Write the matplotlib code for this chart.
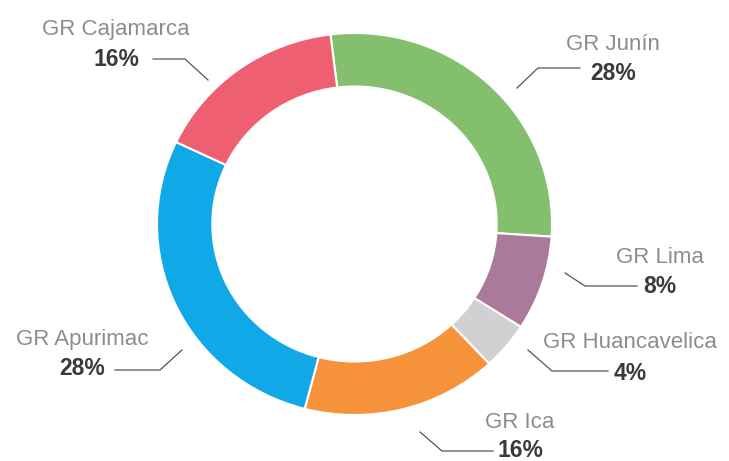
import matplotlib
matplotlib.use("Agg")
import matplotlib.pyplot as plt

# datos
regiones = ["GR Junín", "GR Lima", "GR Huancavelica", "GR Ica", "GR Apurimac", "GR Cajamarca"]
porcentajes = [28, 8, 4, 16, 28, 16]
colores = ["#84BF6E", "#A97A9B", "#D1D1D3", "#F5923A", "#11A8E8", "#EE5F71"]

W, H = 729, 461

# posiciones de etiquetas en pixeles (x centro, baseline nombre, baseline %)
pos_etiquetas = [(613, 50, 80), (660, 263, 293), (630, 348, 380),
                 (520, 428, 457), (82, 345, 375), (116, 35, 66)]
# lineas guia: punta en el anillo, codo, final junto al %
guias = [[(517, 88), (538, 68), (580, 68)],
         [(565, 273), (585, 286), (637, 286)],
         [(528, 350), (552, 371), (608, 371)],
         [(420, 432), (442, 451), (493, 451)],
         [(182, 350), (160, 370), (115, 370)],
         [(208, 80), (185, 59), (153, 59)]]

fig = plt.figure(figsize=(W / 100, H / 100), dpi=100)

# anillo (ligeramente ovalado como en el original)
ax_pie = fig.add_axes([157 / W, (H - 415) / H, 395 / W, 382 / H])
ax_pie.pie(porcentajes, colors=colores, startangle=97, counterclock=False,
           radius=1, frame=True,
           wedgeprops=dict(width=0.28, edgecolor="white", linewidth=1.5))
ax_pie.set_xlim(-1, 1)
ax_pie.set_ylim(-1, 1)
ax_pie.set_aspect("auto")
ax_pie.axis("off")

# etiquetas
ax = fig.add_axes([0, 0, 1, 1])
for reg, pct, (x, yn, yp), g in zip(regiones, porcentajes, pos_etiquetas, guias):
    ax.text(x, H - yn, reg, ha="center", va="baseline", fontsize=16,
            family="Liberation Sans", color="#8C8C8C")
    ax.text(x, H - yp, f"{pct}%", ha="center", va="baseline", fontsize=16.5,
            family="Liberation Sans", fontweight="bold", color="#3A3A3A")
    ax.plot([p[0] for p in g], [H - p[1] for p in g], color="#555555", lw=0.9)
ax.set_xlim(0, W)
ax.set_ylim(0, H)
ax.axis("off")

fig.savefig("out.png", dpi=100)
